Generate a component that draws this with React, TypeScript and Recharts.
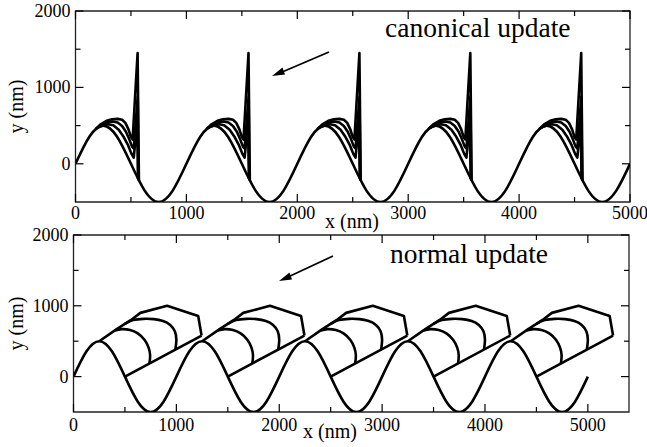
import React from "react";
import { LineChart, Line, XAxis, YAxis, ReferenceArea } from "recharts";

// base sine-like profile, read every 125 nm (x, y in nm)
const baseCurve: [number, number][] = [
  [0, 0], [125, 354], [250, 500], [375, 354], [500, 0], [625, -354], [750, -500], [875, -354],
  [1000, 0], [1125, 354], [1250, 500], [1375, 354], [1500, 0], [1625, -354], [1750, -500], [1875, -354],
  [2000, 0], [2125, 354], [2250, 500], [2375, 354], [2500, 0], [2625, -354], [2750, -500], [2875, -354],
  [3000, 0], [3125, 354], [3250, 500], [3375, 354], [3500, 0], [3625, -354], [3750, -500], [3875, -354],
  [4000, 0], [4125, 354], [4250, 500], [4375, 354], [4500, 0], [4625, -354], [4750, -500], [4875, -354],
  [5000, 0],
];

// each period repeats the same snapshots, starting at these x offsets
const cycleStarts = [0, 1000, 2000, 3000, 4000];

// canonical update: three snapshots per period (first period)
const canonicalOuter: [number, number][] = [
  [180, 453], [230, 520], [280, 562], [330, 582], [380, 588], [420, 576], [450, 535],
  [478, 450], [500, 350], [515, 318], [560, 1450], [572, -225],
];
const canonicalMiddle: [number, number][] = [
  [190, 465], [240, 512], [290, 543], [335, 553], [380, 540], [420, 495], [455, 420],
  [485, 320], [510, 225], [525, 200], [561, 880], [568, -210],
];
const canonicalInner: [number, number][] = [
  [200, 476], [250, 505], [295, 518], [340, 505], [390, 445], [435, 350], [475, 240],
  [505, 130], [525, 80], [556, 540], [563, -195],
];

// normal update: fan, two arcs and the chord back to the profile (first period)
const normalFan: [number, number][] = [
  [250, 500], [420, 670], [560, 800], [650, 900], [910, 1000], [1212, 855], [1245, 580],
];
const normalChord: [number, number][] = [[500, 0], [1245, 580]];
const normalMiddle: [number, number][] = [
  [500, 745], [580, 798], [680, 816], [780, 812], [870, 785], [940, 730], [985, 640], [1000, 520], [990, 381],
];
const normalInner: [number, number][] = [
  [400, 650], [470, 670], [550, 658], [625, 610], [690, 520], [730, 410], [745, 300], [738, 185],
];

const xTicks = [0, 500, 1000, 1500, 2000, 2500, 3000, 3500, 4000, 4500, 5000];
const yTicks = [0, 500, 1000, 1500, 2000];

const serif = '"Liberation Serif", "Times New Roman", serif';
const ink = "#000";

const toPoints = (pts: [number, number][]) => pts.map(([x, y]) => ({ x, y }));
const perCycle = (pts: [number, number][]) =>
  cycleStarts.map((s) => pts.map(([x, y]) => ({ x: x + s, y })));

function xTick(plotTop: number, labelDy: number) {
  return (props: any) => {
    const { x, y, payload } = props;
    const v = payload.value;
    const major = v % 1000 === 0;
    const len = major ? 8 : 5;
    return (
      <g>
        <line x1={x} x2={x} y1={y} y2={y - len} stroke={ink} strokeWidth={1.2} />
        <line x1={x} x2={x} y1={plotTop} y2={plotTop + len} stroke={ink} strokeWidth={1.2} />
        {major && (
          <text x={x} y={y + labelDy} textAnchor="middle" fontFamily={serif} fontSize={18} fill={ink}>
            {v}
          </text>
        )}
      </g>
    );
  };
}

function yTick(plotRight: number) {
  return (props: any) => {
    const { x, y, payload } = props;
    const v = payload.value;
    const major = v % 1000 === 0;
    const len = major ? 8 : 5;
    return (
      <g>
        <line x1={x} x2={x + len} y1={y} y2={y} stroke={ink} strokeWidth={1.2} />
        <line x1={plotRight} x2={plotRight - len} y1={y} y2={y} stroke={ink} strokeWidth={1.2} />
        {major && (
          <text x={x - 5} y={y + 6} textAnchor="end" fontFamily={serif} fontSize={18} fill={ink}>
            {v}
          </text>
        )}
      </g>
    );
  };
}

function Curve({ data, type = "linear" }: { data: { x: number; y: number }[]; type?: any }) {
  return (
    <Line
      data={data}
      dataKey="y"
      type={type}
      stroke={ink}
      strokeWidth={2.6}
      strokeLinejoin="round"
      dot={false}
      activeDot={false}
      isAnimationActive={false}
    />
  );
}

export default function App() {
  const base = toPoints(baseCurve);
  const canon = [canonicalOuter, canonicalMiddle, canonicalInner].flatMap(perCycle);
  const fans = perCycle(normalFan);
  const chords = perCycle(normalChord);
  const arcs = [normalMiddle, normalInner].flatMap(perCycle);

  return (
    <div style={{ position: "absolute", left: 0, top: 0, width: 647, height: 447, background: "#fff" }}>
      <div style={{ position: "absolute", left: 0, top: 0 }}>
        <LineChart width={647} height={226} margin={{ top: 11, right: 17, bottom: 0, left: 0 }}>
          <XAxis
            dataKey="x"
            type="number"
            domain={[0, 5000]}
            ticks={xTicks}
            interval={0}
            allowDataOverflow
            height={24}
            tickSize={0}
            tickMargin={0}
            tickLine={false}
            axisLine={false}
            tick={xTick(11, 17)}
          />
          <YAxis
            type="number"
            domain={[-500, 2000]}
            ticks={yTicks}
            interval={0}
            allowDataOverflow
            width={75.5}
            tickSize={0}
            tickMargin={0}
            tickLine={false}
            axisLine={false}
            tick={yTick(630)}
          />
          <ReferenceArea x1={0} x2={5000} y1={-500} y2={2000} fill="none" stroke="#222" strokeWidth={1.3} strokeOpacity={1} />
          <Curve data={base} type="natural" />
          {canon.map((d, i) => (
            <Curve key={"c" + i} data={d} />
          ))}
        </LineChart>
      </div>
      <div style={{ position: "absolute", left: 0, top: 222 }}>
        <LineChart width={647} height={225} margin={{ top: 13, right: 18, bottom: 0, left: 0 }}>
          <XAxis
            dataKey="x"
            type="number"
            domain={[0, 5400]}
            ticks={xTicks}
            interval={0}
            allowDataOverflow
            height={35}
            tickSize={0}
            tickMargin={0}
            tickLine={false}
            axisLine={false}
            tick={xTick(13, 19)}
          />
          <YAxis
            type="number"
            domain={[-500, 2000]}
            ticks={yTicks}
            interval={0}
            allowDataOverflow
            width={73.5}
            tickSize={0}
            tickMargin={0}
            tickLine={false}
            axisLine={false}
            tick={yTick(629)}
          />
          <ReferenceArea x1={0} x2={5400} y1={-500} y2={2000} fill="none" stroke="#222" strokeWidth={1.3} strokeOpacity={1} />
          <Curve data={base} type="natural" />
          {fans.map((d, i) => (
            <Curve key={"f" + i} data={d} />
          ))}
          {chords.map((d, i) => (
            <Curve key={"k" + i} data={d} />
          ))}
          {arcs.map((d, i) => (
            <Curve key={"a" + i} data={d} type="natural" />
          ))}
        </LineChart>
      </div>
      <svg
        width={647}
        height={447}
        style={{ position: "absolute", left: 0, top: 0, pointerEvents: "none" }}
        fontFamily={serif}
        fill={ink}
      >
        <text x={385} y={37} fontSize={27.5}>canonical update</text>
        <text x={390} y={263} fontSize={27.5}>normal update</text>
        <text x={352} y={228} fontSize={20} textAnchor="middle">x (nm)</text>
        <text x={330} y={438} fontSize={20} textAnchor="middle">x (nm)</text>
        <text transform="translate(23,106.5) rotate(-90)" fontSize={20} textAnchor="middle">y (nm)</text>
        <text transform="translate(23,323.5) rotate(-90)" fontSize={20} textAnchor="middle">y (nm)</text>
        <line x1={329} y1={52} x2={281} y2={72.5} stroke={ink} strokeWidth={1.8} />
        <polygon points="272,76 282.5,67.5 285,74.5" />
        <line x1={333} y1={256} x2={288} y2={277} stroke={ink} strokeWidth={1.8} />
        <polygon points="279,281 289.5,272.5 292,279.5" />
      </svg>
    </div>
  );
}
